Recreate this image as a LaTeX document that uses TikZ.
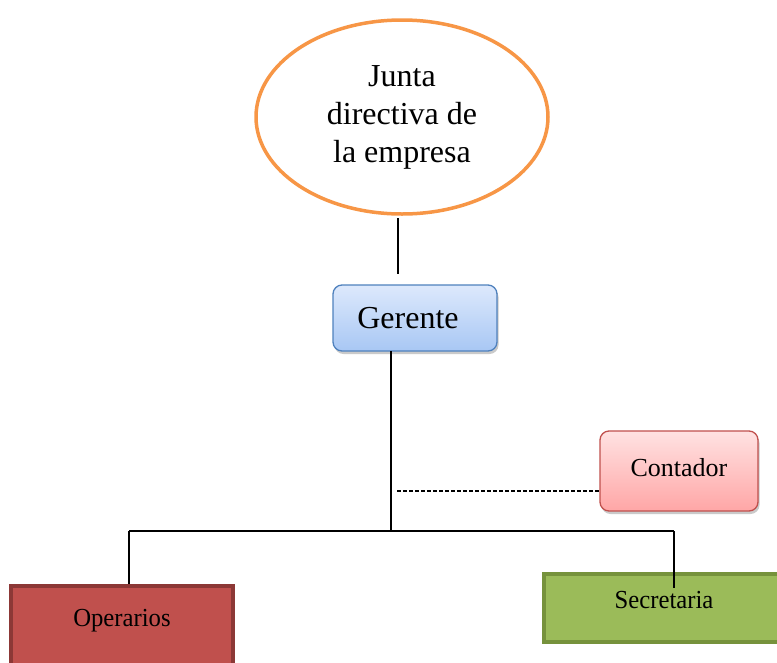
\documentclass[tikz,border=0pt]{standalone}
\usepackage{fontspec}
\setmainfont{Liberation Serif}
\usetikzlibrary{shapes.geometric,shadows}
\definecolor{boardorange}{HTML}{F79646}
\definecolor{bluetop}{HTML}{DDE9FC}
\definecolor{bluebot}{HTML}{A8C7F4}
\definecolor{blueline}{HTML}{4F81BD}
\definecolor{pinktop}{HTML}{FFE2E2}
\definecolor{pinkbot}{HTML}{FFA6A6}
\definecolor{redline}{HTML}{C0504D}
\definecolor{opfill}{HTML}{C0504D}
\definecolor{opline}{HTML}{8C3836}
\definecolor{secfill}{HTML}{9BBB59}
\definecolor{secline}{HTML}{76923C}
\tikzset{
  board/.style={ellipse, draw=boardorange, line width=3.5pt, fill=white,
    minimum width=292pt, minimum height=194pt, align=center,
    font=\fontsize{32}{38}\selectfont},
  softbox/.style={rectangle, rounded corners=9pt, line width=1.3pt,
    drop shadow={shadow xshift=1.5pt, shadow yshift=-3pt, opacity=0.35, fill=black!60}},
  flatbox/.style={rectangle, line width=4pt},
  wire/.style={line width=1.2pt, black},
  dotted link/.style={line width=1.2pt, black, dash pattern=on 4pt off 2pt}
}
\begin{document}
\begin{tikzpicture}[x=1pt, y=-1pt]
\useasboundingbox (0,0) rectangle (777,662);
\clip (0,0) rectangle (777,662);

% board of directors
\node[board] (junta) at (402,117) {Junta\\directiva de\\la empresa};

% manager
\node[softbox, draw=blueline, top color=bluetop, bottom color=bluebot,
  minimum width=164pt, minimum height=66pt,
  font=\fontsize{32}{34}\selectfont] (gerente) at (415,318) {\raisebox{-4pt}{\hspace*{-14pt}Gerente}};

% accountant (staff position)
\node[softbox, draw=redline, top color=pinktop, bottom color=pinkbot,
  minimum width=158pt, minimum height=80pt,
  font=\fontsize{26}{28}\selectfont] (contador) at (679,471) {\raisebox{8pt}{Contador}};

% line positions
\node[flatbox, draw=opline, fill=opfill, minimum width=222pt, minimum height=140pt,
  anchor=north] (operarios) at (122,584) {};
\node[font=\fontsize{26}{28}\selectfont, xscale=0.95] (optext) at (122,621) {Operarios};

\node[flatbox, draw=secline, fill=secfill, minimum width=246pt, minimum height=68pt,
  anchor=north west] (secretaria) at (542,572) {};
\node[font=\fontsize{26}{28}\selectfont, xscale=0.95] (sectext) at (664,600) {Secretaria};

% connectors
\coordinate (juntaDown) at (398,218);
\coordinate (juntaEnd) at (398,274);
\draw[wire] (juntaDown) -- (juntaEnd);

\coordinate (gerBot) at (391,351);
\coordinate (hub) at (391,531);
\coordinate (leftCorner) at (129,531);
\coordinate (rightCorner) at (674,531);
\coordinate (secEnd) at (674,588);
\coordinate (dashStart) at (397,491);

\draw[wire] (gerBot) -- (hub);
\draw[wire] (leftCorner) -- (rightCorner);
\draw[wire] (leftCorner) -- (leftCorner |- operarios.north);
\draw[wire] (rightCorner) -- (secEnd);
\draw[dotted link] (dashStart) -- (dashStart -| contador.west);
\end{tikzpicture}
\end{document}
